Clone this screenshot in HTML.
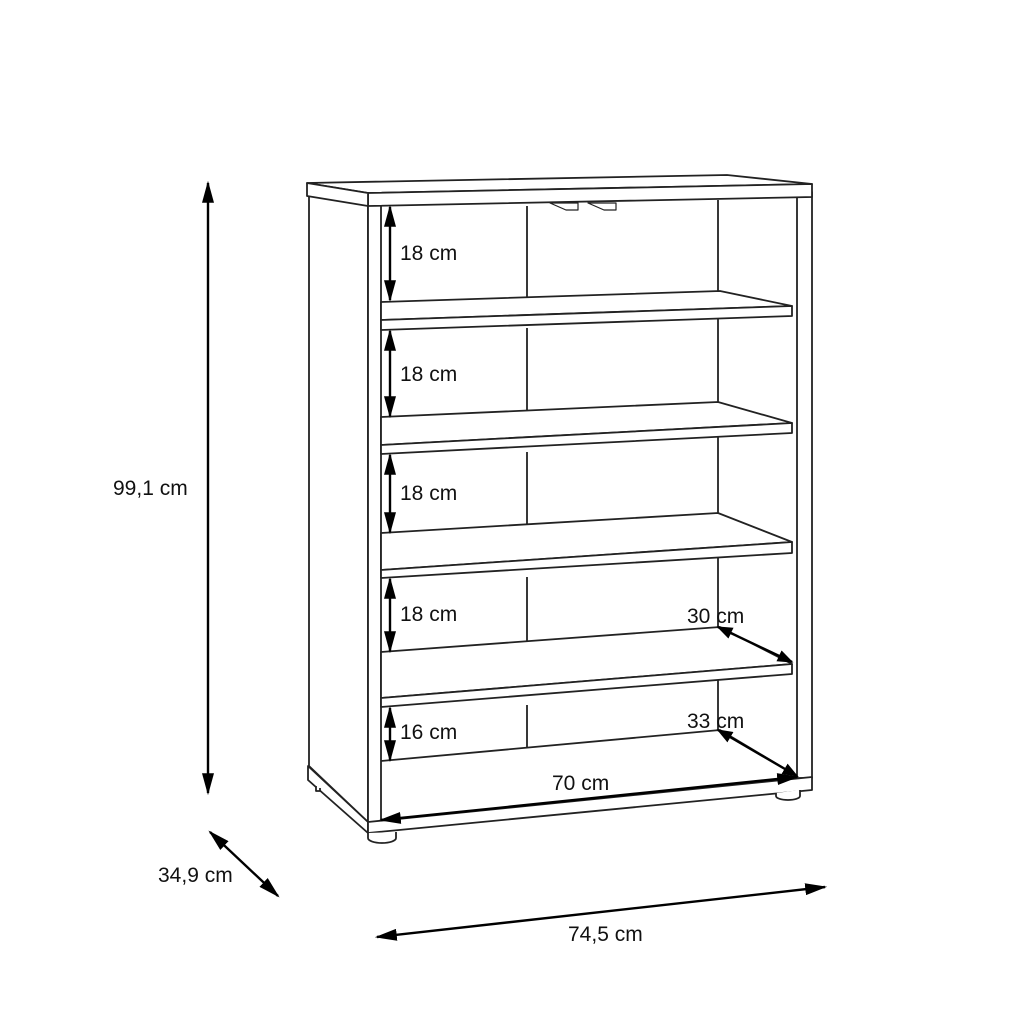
<!DOCTYPE html>
<html><head><meta charset="utf-8"><style>
html,body{margin:0;padding:0;background:#fff;}
svg{display:block;}
text{font-family:"Liberation Sans",sans-serif;font-size:21px;fill:#111;}
</style></head><body>
<svg width="1024" height="1024" viewBox="0 0 1024 1024" xmlns="http://www.w3.org/2000/svg">
<defs>
<marker id="a" viewBox="0 0 10 10" refX="9" refY="5" markerWidth="16" markerHeight="12" markerUnits="userSpaceOnUse" orient="auto-start-reverse" preserveAspectRatio="none">
<path d="M0,0 L10,5 L0,10 z" fill="#000"/>
</marker>
<marker id="b" viewBox="0 0 10 10" refX="9" refY="5" markerWidth="22" markerHeight="12" markerUnits="userSpaceOnUse" orient="auto-start-reverse" preserveAspectRatio="none">
<path d="M0,0 L10,5 L0,10 z" fill="#000"/>
</marker>
</defs>
<g fill="#fff" stroke="#222" stroke-width="1.8" stroke-linejoin="round">
<polygon points="309,190 368,200 368,822 309,766"/>
<rect x="368" y="200" width="13" height="633"/>
<rect x="797" y="192" width="15" height="586"/>
<line x1="527" y1="206" x2="527" y2="298"/>
<line x1="718" y1="200" x2="718" y2="291"/>
<line x1="527" y1="328" x2="527" y2="416"/>
<line x1="718" y1="316" x2="718" y2="402"/>
<line x1="527" y1="452" x2="527" y2="530"/>
<line x1="718" y1="433" x2="718" y2="513"/>
<line x1="527" y1="577" x2="527" y2="648"/>
<line x1="718" y1="553" x2="718" y2="627"/>
<line x1="527" y1="705" x2="527" y2="747"/>
<line x1="718" y1="674" x2="718" y2="730"/>
<polygon points="381,302 720,291 792,306 381,320"/>
<polygon points="381,320 792,306 792,316 381,330"/>
<polygon points="381,417 718,402 792,423 381,445"/>
<polygon points="381,445 792,423 792,433 381,454"/>
<polygon points="381,533 718,513 792,542 381,570"/>
<polygon points="381,570 792,542 792,553 381,578"/>
<polygon points="381,652 720,627 792,664 381,698"/>
<polygon points="381,698 792,664 792,674 381,707"/>
<polyline fill="none" points="381,761 720,730 797,776"/>
<polygon points="308,766 368,822 368,833 308,780"/>
<polygon points="368,822 812,777 812,790 368,833"/>
<path d="M368,833 v5 a14,5 0 0 0 28,0 v-6"/>
<path d="M776,793 v3 a12,4 0 0 0 24,0 v-6"/>
<path d="M316,786 v5 h4 v-3"/>
<polygon points="307,183 727,175 812,184 368,193"/>
<polygon points="368,193 812,184 812,197 368,206"/>
<polygon points="307,183 368,193 368,206 307,196"/>
<path d="M550,203 h28 v7 h-12 z" stroke-width="1.2"/>
<path d="M588,203 h28 v7 h-12 z" stroke-width="1.2"/>
</g>
<g stroke="#000" stroke-width="2.4" fill="none">
<line x1="208" y1="183" x2="208" y2="793" marker-start="url(#b)" marker-end="url(#b)"/>
<line x1="210" y1="832" x2="278" y2="896" marker-start="url(#b)" marker-end="url(#b)"/>
<line x1="377" y1="937" x2="825" y2="887" marker-start="url(#b)" marker-end="url(#b)"/>
<line x1="381" y1="820" x2="797" y2="777" marker-start="url(#b)" marker-end="url(#b)"/>
<line x1="718" y1="627" x2="792" y2="662" marker-start="url(#a)" marker-end="url(#a)"/>
<line x1="718" y1="730" x2="797" y2="776" marker-start="url(#a)" marker-end="url(#a)"/>
<line x1="390" y1="207" x2="390" y2="300" marker-start="url(#b)" marker-end="url(#b)"/>
<line x1="390" y1="331" x2="390" y2="416" marker-start="url(#b)" marker-end="url(#b)"/>
<line x1="390" y1="455" x2="390" y2="532" marker-start="url(#b)" marker-end="url(#b)"/>
<line x1="390" y1="579" x2="390" y2="651" marker-start="url(#b)" marker-end="url(#b)"/>
<line x1="390" y1="708" x2="390" y2="760" marker-start="url(#b)" marker-end="url(#b)"/>
</g>
<text x="400" y="260">18 cm</text>
<text x="400" y="381">18 cm</text>
<text x="400" y="500">18 cm</text>
<text x="400" y="621">18 cm</text>
<text x="400" y="739">16 cm</text>
<text x="687" y="623">30 cm</text>
<text x="687" y="728">33 cm</text>
<text x="552" y="790">70 cm</text>
<text x="113" y="495">99,1 cm</text>
<text x="158" y="882">34,9 cm</text>
<text x="568" y="941">74,5 cm</text>
</svg>
</body></html>
